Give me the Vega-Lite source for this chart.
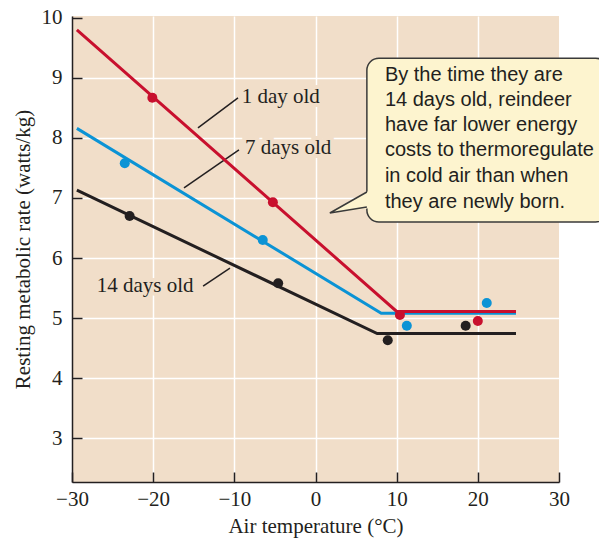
{
  "$schema": "https://vega.github.io/schema/vega-lite/v6.json",
  "width": 487,
  "height": 466,
  "autosize": {"type": "none"},
  "padding": {"left": 72, "top": 16, "right": 40, "bottom": 59},
  "background": "white",
  "config": {
    "view": {"fill": "#f1dec9", "stroke": null},
    "axis": {
      "labelFont": "Liberation Serif",
      "labelFontSize": 21,
      "labelColor": "#231f20",
      "titleFont": "Liberation Serif",
      "titleFontSize": 21,
      "titleFontWeight": "normal",
      "titleColor": "#231f20",
      "domainColor": "#231f20",
      "domainWidth": 1.5,
      "tickColor": "#231f20",
      "tickWidth": 1.5,
      "tickSize": -10,
      "gridColor": "white",
      "gridWidth": 1.5,
      "labelFlush": false,
      "labelOverlap": false
    }
  },
  "encoding": {
    "x": {
      "field": "x",
      "type": "quantitative",
      "scale": {"domain": [-30, 30], "nice": false, "zero": false},
      "axis": {
        "values": [-30, -20, -10, 0, 10, 20, 30],
        "title": "Air temperature (°C)",
        "labelPadding": 16,
        "titlePadding": 6,
        "gridOpacity": {"condition": {"test": "datum.value === -30 || datum.value === 30", "value": 0}, "value": 1}
      }
    },
    "y": {
      "field": "y",
      "type": "quantitative",
      "scale": {"domain": [2.267, 10.033], "nice": false, "zero": false},
      "axis": {
        "values": [3, 4, 5, 6, 7, 8, 9, 10],
        "title": "Resting metabolic rate (watts/kg)",
        "labelPadding": 20,
        "titlePadding": 8,
        "gridOpacity": {"condition": {"test": "datum.value === 10", "value": 0}, "value": 1}
      }
    }
  },
  "layer": [
    {
      "data": {"values": [{"x": 6.33, "x2": 36, "y": 9.33, "y2": 6.6}]},
      "mark": {"type": "rect", "fill": "#fdf4cf", "stroke": "#3a3a3a", "strokeWidth": 1.5, "cornerRadius": 12},
      "encoding": {"x2": {"field": "x2"}, "y2": {"field": "y2"}}
    },
    {
      "data": {"values": [{"x": 1.77, "y": 6.75, "y2": 6.75}, {"x": 6.6, "y": 7.12, "y2": 6.83}]},
      "mark": {"type": "area", "fill": "#fdf4cf", "opacity": 1},
      "encoding": {"y2": {"field": "y2"}}
    },
    {
      "data": {"values": [{"x": 6.33, "y": 7.1, "o": 1}, {"x": 1.77, "y": 6.75, "o": 2}, {"x": 6.33, "y": 6.85, "o": 3}]},
      "mark": {"type": "line", "color": "#3a3a3a", "strokeWidth": 1.5},
      "encoding": {"order": {"field": "o", "type": "quantitative"}}
    },
    {
      "data": {"values": [
        {"x": 8.55, "y": 9.05, "t": "By the time they are"},
        {"x": 8.55, "y": 8.63, "t": "14 days old, reindeer"},
        {"x": 8.55, "y": 8.22, "t": "have far lower energy"},
        {"x": 8.55, "y": 7.8, "t": "costs to thermoregulate"},
        {"x": 8.55, "y": 7.36, "t": "in cold air than when"},
        {"x": 8.55, "y": 6.94, "t": "they are newly born."}
      ]},
      "mark": {"type": "text", "align": "left", "baseline": "middle", "font": "Liberation Sans", "fontSize": 20, "color": "#231f20"},
      "encoding": {"text": {"field": "t"}}
    },
    {
      "data": {"values": [
        {"x": -9.1, "y": 8.68, "t": "1 day old"},
        {"x": -8.7, "y": 7.83, "t": "7 days old"},
        {"x": -26.96, "y": 5.53, "t": "14 days old"}
      ]},
      "mark": {"type": "text", "align": "left", "baseline": "middle", "font": "Liberation Serif", "fontSize": 21, "color": "#f1dec9", "stroke": "#f1dec9", "strokeWidth": 8},
      "encoding": {"text": {"field": "t"}}
    },
    {
      "data": {"values": [
        {"x": -14.48, "y": 8.17, "x2": -9.55, "y2": 8.67},
        {"x": -16.2, "y": 7.17, "x2": -9.43, "y2": 7.8},
        {"x": -13.85, "y": 5.53, "x2": -10.54, "y2": 5.83}
      ]},
      "mark": {"type": "rule", "color": "#231f20", "strokeWidth": 1.5},
      "encoding": {"x2": {"field": "x2"}, "y2": {"field": "y2"}}
    },
    {
      "data": {"values": [
        {"s": "a14", "x": -29.4, "y": 7.13},
        {"s": "a14", "x": 7.6, "y": 4.74},
        {"s": "a14", "x": 24.7, "y": 4.74},
        {"s": "b7", "x": -29.4, "y": 8.16},
        {"s": "b7", "x": 8.1, "y": 5.08},
        {"s": "b7", "x": 24.7, "y": 5.08},
        {"s": "c1", "x": -29.4, "y": 9.8},
        {"s": "c1", "x": 10.0, "y": 5.11},
        {"s": "c1", "x": 24.7, "y": 5.11}
      ]},
      "mark": {"type": "line", "strokeWidth": 3},
      "encoding": {
        "color": {"field": "s", "type": "nominal", "scale": {"domain": ["a14", "b7", "c1"], "range": ["#231f20", "#0b93d5", "#c8102e"]}, "legend": null}
      }
    },
    {
      "data": {"values": [
        {"s": "a14", "x": -22.9, "y": 6.7},
        {"s": "a14", "x": -4.6, "y": 5.58},
        {"s": "a14", "x": 8.9, "y": 4.63},
        {"s": "a14", "x": 18.5, "y": 4.87},
        {"s": "b7", "x": -23.5, "y": 7.58},
        {"s": "b7", "x": -6.5, "y": 6.3},
        {"s": "b7", "x": 11.25, "y": 4.87},
        {"s": "b7", "x": 21.1, "y": 5.25},
        {"s": "c1", "x": -20.1, "y": 8.67},
        {"s": "c1", "x": -5.25, "y": 6.93},
        {"s": "c1", "x": 10.4, "y": 5.05},
        {"s": "c1", "x": 20.0, "y": 4.95}
      ]},
      "mark": {"type": "circle", "size": 100, "opacity": 1},
      "encoding": {
        "color": {"field": "s", "type": "nominal", "scale": {"domain": ["a14", "b7", "c1"], "range": ["#231f20", "#0b93d5", "#c8102e"]}, "legend": null}
      }
    },
    {
      "data": {"values": [
        {"x": -9.1, "y": 8.68, "t": "1 day old"},
        {"x": -8.7, "y": 7.83, "t": "7 days old"},
        {"x": -26.96, "y": 5.53, "t": "14 days old"}
      ]},
      "mark": {"type": "text", "align": "left", "baseline": "middle", "font": "Liberation Serif", "fontSize": 21, "color": "#231f20"},
      "encoding": {"text": {"field": "t"}}
    }
  ]
}
